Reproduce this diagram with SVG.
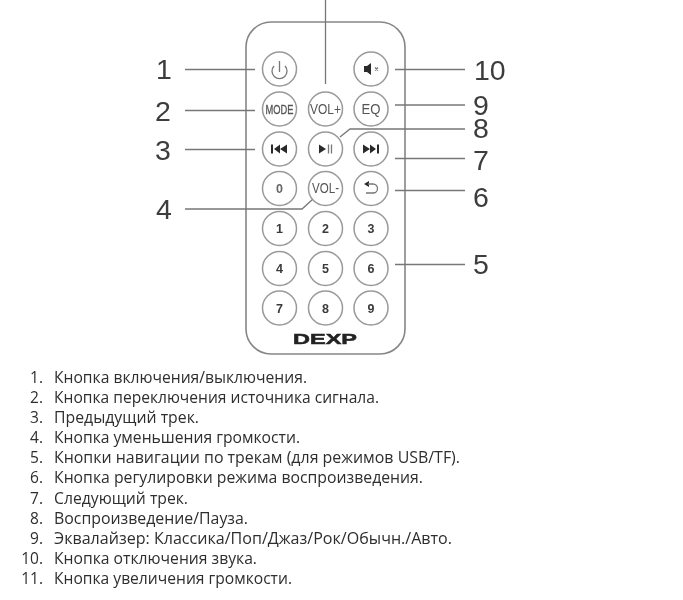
<svg xmlns="http://www.w3.org/2000/svg" width="683" height="600" viewBox="0 0 683 600">
<defs>
<filter id="soft" x="-5%" y="-5%" width="110%" height="110%"><feGaussianBlur stdDeviation="0.45"/></filter>
</defs>
<style>
.body{fill:#fff;stroke:#868686;stroke-width:1.6}
.btn{fill:#fff;stroke:#9a9a9a;stroke-width:1.5}
.lead{fill:none;stroke:#777;stroke-width:1.3}
.num{font:28.5px "Liberation Sans",Arial,sans-serif;fill:#3c3c3c}
.bt{font:bold 12.500px "Liberation Sans",Arial,sans-serif;fill:#3a3a3a;text-anchor:middle}
.bl{font:14px "Liberation Sans",Arial,sans-serif;fill:#555;text-anchor:middle}
.ic{fill:#2c2c2c;stroke:none}
.icl{fill:none;stroke:#777;stroke-width:1.3}
.li{font:15.500px "Open Sans","Noto Sans",sans-serif;fill:#2e2e2e}
.ln{font:15.500px "Open Sans","Noto Sans",sans-serif;fill:#2e2e2e;text-anchor:end}
</style>
<rect width="683" height="600" fill="#fff"/>
<g filter="url(#soft)">
<g id="remote-body"><rect class="body" x="246" y="22" width="159" height="332" rx="25" ry="25"/>
<text x="325" y="344" font-family="Liberation Sans, sans-serif" font-weight="bold" font-size="15.5" fill="#222" stroke="#222" stroke-width="0.5" textLength="64" lengthAdjust="spacingAndGlyphs" text-anchor="middle">DEXP</text></g>
<g id="connectors">
<path class="lead" d="M185 69.5H255"/>
<path class="lead" d="M185 110.5H255"/>
<path class="lead" d="M185 149.5H255"/>
<path class="lead" d="M185 209H302L313 199"/>
<path class="lead" d="M395 264.5H465"/>
<path class="lead" d="M395 190.5H465"/>
<path class="lead" d="M395 158.5H465"/>
<path class="lead" d="M465 129H350L340 137"/>
<path class="lead" d="M395 105H465"/>
<path class="lead" d="M395 69.5H465"/>
<path class="lead" d="M325.5 0V84"/>
</g>
<g id="btn-power"><circle class="btn" cx="279.5" cy="69" r="17"/><path class="icl" d="M274 66a7.5 7.5 0 1 0 11 0M279.5 61V72"/></g>
<g id="btn-volup"><circle class="btn" cx="325.5" cy="109" r="17"/><text class="bl" x="325.5" y="114" textLength="31" lengthAdjust="spacingAndGlyphs">VOL+</text></g>
<g id="btn-mute"><circle class="btn" cx="371" cy="69" r="17"/><path class="ic" d="M364 66h3l4-3v12l-4-3h-3z"/><path class="icl" d="M375 67.500l3 3M378 67.500l-3 3"/></g>
<g id="btn-mode"><circle class="btn" cx="279.5" cy="109" r="17"/><text class="bl" x="279.5" y="113.500" textLength="28" lengthAdjust="spacingAndGlyphs" stroke="#555" stroke-width="0.3" style="font-size:12px">MODE</text></g>
<g id="btn-eq"><circle class="btn" cx="371" cy="109" r="17"/><text class="bl" x="371" y="114" textLength="19" lengthAdjust="spacingAndGlyphs">EQ</text></g>
<g id="btn-prev"><circle class="btn" cx="279.5" cy="149" r="17"/><path class="ic" d="M271 144.500h2v9h-2zM280 144.500v9l-6-4.500zM287 144.500v9l-7-4.500z"/></g>
<g id="btn-play"><circle class="btn" cx="325.5" cy="149" r="17"/><path class="ic" d="M319 144.500l7 4.500-7 4.500z"/><path class="icl" d="M328.500 144.500v9M331.500 144.500v9"/></g>
<g id="btn-next"><circle class="btn" cx="371" cy="149" r="17"/><path class="ic" d="M363 144.500l7 4.500-7 4.500zM370 144.500l6 4.500-6 4.500zM377 144.500h2v9h-2z"/></g>
<g id="btn-0"><circle class="btn" cx="279.5" cy="188.500" r="17"/><text class="bt" x="279.500" y="193" style="fill:#666">0</text></g>
<g id="btn-voldown"><circle class="btn" cx="325.5" cy="188.500" r="17"/><text class="bl" x="325.500" y="193" textLength="27" lengthAdjust="spacingAndGlyphs">VOL-</text></g>
<g id="btn-back"><circle class="btn" cx="371" cy="188.500" r="17"/><path class="ic" d="M364 184l5-3v6z"/><path class="icl" d="M368 184h5a4.500 4.500 0 0 1 0 9h-7"/></g>
<g id="btn-1"><circle class="btn" cx="279.5" cy="228.500" r="17"/><text class="bt" x="279.500" y="233">1</text></g>
<g id="btn-2"><circle class="btn" cx="325.5" cy="228.500" r="17"/><text class="bt" x="325.500" y="233">2</text></g>
<g id="btn-3"><circle class="btn" cx="371" cy="228.500" r="17"/><text class="bt" x="371" y="233">3</text></g>
<g id="btn-4"><circle class="btn" cx="279.5" cy="268.500" r="17"/><text class="bt" x="279.500" y="273">4</text></g>
<g id="btn-5"><circle class="btn" cx="325.5" cy="268.500" r="17"/><text class="bt" x="325.500" y="273">5</text></g>
<g id="btn-6"><circle class="btn" cx="371" cy="268.500" r="17"/><text class="bt" x="371" y="273">6</text></g>
<g id="btn-7"><circle class="btn" cx="279.5" cy="308" r="17"/><text class="bt" x="279.500" y="312.500">7</text></g>
<g id="btn-8"><circle class="btn" cx="325.5" cy="308" r="17"/><text class="bt" x="325.500" y="312.500">8</text></g>
<g id="btn-9"><circle class="btn" cx="371" cy="308" r="17"/><text class="bt" x="371" y="312.500">9</text></g>
<g id="callouts">
<text class="num" x="156" y="78.500">1</text>
<text class="num" x="155" y="120.500">2</text>
<text class="num" x="155" y="159.500">3</text>
<text class="num" x="156" y="218.500">4</text>
<text class="num" x="473" y="273.500">5</text>
<text class="num" x="473" y="206.500">6</text>
<text class="num" x="473" y="170">7</text>
<text class="num" x="473" y="138">8</text>
<text class="num" x="473" y="115">9</text>
<text class="num" x="474" y="80">10</text>
</g>
<g id="legend">
<text class="ln" x="43" y="383">1.</text><text class="li" x="54" y="383" textLength="253" lengthAdjust="spacingAndGlyphs">Кнопка включения/выключения.</text>
<text class="ln" x="43" y="403">2.</text><text class="li" x="54" y="403" textLength="325" lengthAdjust="spacingAndGlyphs">Кнопка переключения источника сигнала.</text>
<text class="ln" x="43" y="423">3.</text><text class="li" x="54" y="423" textLength="145" lengthAdjust="spacingAndGlyphs">Предыдущий трек.</text>
<text class="ln" x="43" y="443">4.</text><text class="li" x="54" y="443" textLength="246" lengthAdjust="spacingAndGlyphs">Кнопка уменьшения громкости.</text>
<text class="ln" x="43" y="463">5.</text><text class="li" x="54" y="463" textLength="406" lengthAdjust="spacingAndGlyphs">Кнопки навигации по трекам (для режимов USB/TF).</text>
<text class="ln" x="43" y="483">6.</text><text class="li" x="54" y="483" textLength="369" lengthAdjust="spacingAndGlyphs">Кнопка регулировки режима воспроизведения.</text>
<text class="ln" x="43" y="504">7.</text><text class="li" x="54" y="504" textLength="134" lengthAdjust="spacingAndGlyphs">Следующий трек.</text>
<text class="ln" x="43" y="524">8.</text><text class="li" x="54" y="524" textLength="194" lengthAdjust="spacingAndGlyphs">Воспроизведение/Пауза.</text>
<text class="ln" x="43" y="544">9.</text><text class="li" x="54" y="544" textLength="398" lengthAdjust="spacingAndGlyphs">Эквалайзер: Классика/Поп/Джаз/Рок/Обычн./Авто.</text>
<text class="ln" x="43" y="564">10.</text><text class="li" x="54" y="564" textLength="203" lengthAdjust="spacingAndGlyphs">Кнопка отключения звука.</text>
<text class="ln" x="43" y="584">11.</text><text class="li" x="54" y="584" textLength="238" lengthAdjust="spacingAndGlyphs">Кнопка увеличения громкости.</text>
</g>
</g>
</svg>
